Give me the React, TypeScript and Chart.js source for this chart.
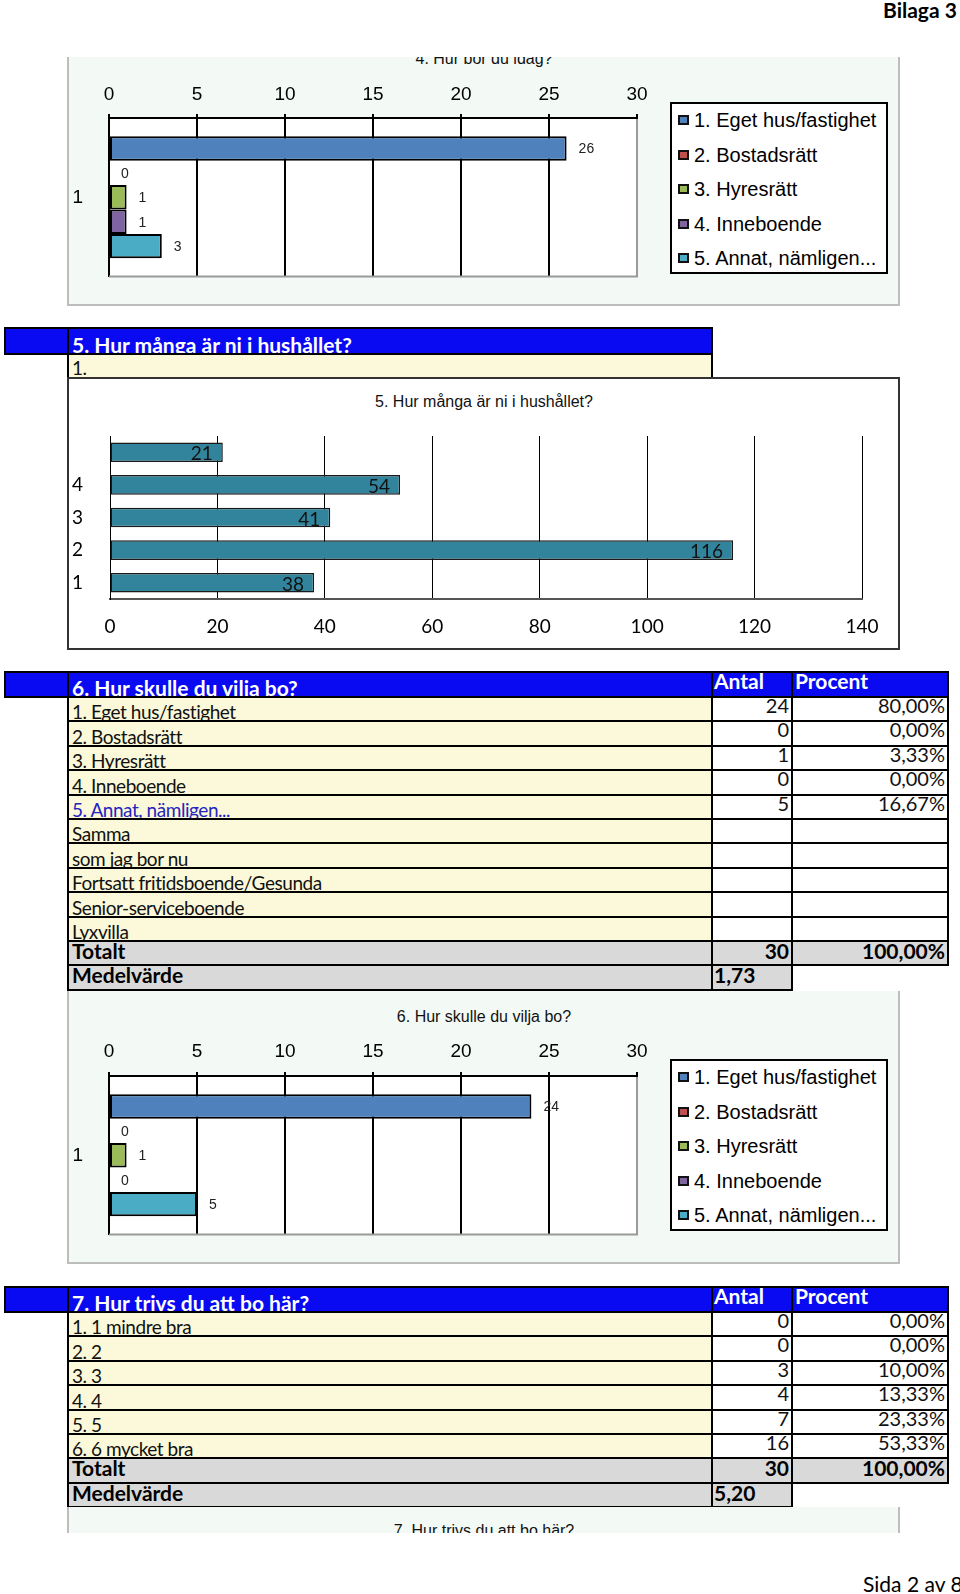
import React, { useEffect, useRef } from "react";
import { Chart, registerables } from "chart.js";

Chart.register(...registerables);

// ---------- data ----------
const housingCategories = [
  "1. Eget hus/fastighet",
  "2. Bostadsrätt",
  "3. Hyresrätt",
  "4. Inneboende",
  "5. Annat, nämligen...",
];
const seriesColors = ["#4f81bd", "#c0504d", "#9bbb59", "#8064a2", "#4bacc6"];
const groupLabels = ["1"];
const currentHousing = [26, 0, 1, 1, 3];
const desiredHousing = [24, 0, 1, 0, 5];

const householdLabels = ["", "4", "3", "2", "1"];
const householdCounts = [21, 54, 41, 116, 38];

const wishRowLabels = [
  "1. Eget hus/fastighet",
  "2. Bostadsrätt",
  "3. Hyresrätt",
  "4. Inneboende",
  "5. Annat, nämligen...",
  "Samma",
  "som jag bor nu",
  "Fortsatt fritidsboende/Gesunda",
  "Senior-serviceboende",
  "Lyxvilla",
];
const wishCounts = ["24", "0", "1", "0", "5", "", "", "", "", ""];
const wishPercents = ["80,00%", "0,00%", "3,33%", "0,00%", "16,67%", "", "", "", "", ""];
const wishTotal = ["30", "100,00%"];
const wishMean = "1,73";

const thriveRowLabels = ["1. 1 mindre bra", "2. 2", "3. 3", "4. 4", "5. 5", "6. 6 mycket bra"];
const thriveCounts = ["0", "0", "3", "4", "7", "16"];
const thrivePercents = ["0,00%", "0,00%", "10,00%", "13,33%", "23,33%", "53,33%"];
const thriveTotal = ["30", "100,00%"];
const thriveMean = "5,20";

// ---------- styles ----------
const GILL = 'Lato, "Open Sans", sans-serif';
const ARIAL = '"Liberation Sans", Arial, sans-serif';
const BLUE = "#0a0af2";
const YELLOW = "#fbf9d9";
const GRAY = "#d9d9d9";
const MINT = "#f3faf6";

const COLS = [5, 68, 712, 792, 948];

const plotBgPlugin = {
  id: "plotBg",
  beforeDraw(chart: any) {
    const { ctx, chartArea } = chart;
    ctx.save();
    ctx.fillStyle = "#ffffff";
    ctx.fillRect(chartArea.left, chartArea.top, chartArea.right - chartArea.left, chartArea.bottom - chartArea.top);
    ctx.restore();
  },
};

const bottomFramePlugin = {
  id: "bottomFrame",
  afterDraw(chart: any) {
    const { ctx, chartArea } = chart;
    ctx.save();
    ctx.strokeStyle = "#9a9a9a";
    ctx.lineWidth = 2;
    ctx.beginPath();
    ctx.moveTo(chartArea.left, chartArea.bottom);
    ctx.lineTo(chartArea.right + 1, chartArea.bottom);
    ctx.stroke();
    ctx.restore();
  },
};

function valueLabels(opts: { font: string; color: string; align: any; dx: number; dy: number }) {
  return {
    id: "valueLabels",
    afterDatasetsDraw(chart: any) {
      const ctx = chart.ctx;
      ctx.save();
      ctx.font = opts.font;
      ctx.fillStyle = opts.color;
      ctx.textBaseline = "middle";
      ctx.textAlign = opts.align;
      chart.data.datasets.forEach((ds: any, di: number) => {
        const meta = chart.getDatasetMeta(di);
        meta.data.forEach((el: any, i: number) => {
          ctx.fillText(String(ds.data[i]), el.x + opts.dx, el.y + opts.dy);
        });
      });
      ctx.restore();
    },
  };
}

// ---------- housing chart (charts 4 and 6) ----------
const BOX_LEFT = 67;
const BOX_W = 833;

function HousingChart(props: {
  values: number[];
  title: string;
  boxTop: number;
  boxHeight: number;
  plotTop: number;
  plotBottom: number;
  tickPad: number;
  titleCenter: number;
  legendTop: number;
}) {
  const ref = useRef<HTMLCanvasElement>(null);
  const { values, boxHeight, plotTop, plotBottom, tickPad } = props;
  useEffect(() => {
    const chart = new Chart(ref.current as HTMLCanvasElement, {
      type: "bar",
      data: {
        labels: groupLabels,
        datasets: housingCategories.map((name, i) => ({
          label: name,
          data: [values[i]],
          backgroundColor: seriesColors[i],
          borderColor: "#000",
          borderWidth: (c: any) => (c.raw === 0 ? 0 : 2),
          borderSkipped: false,
          barPercentage: 1,
          categoryPercentage: 0.77,
        })),
      } as any,
      options: {
        indexAxis: "y",
        responsive: false,
        animation: false,
        devicePixelRatio: 1,
        layout: { padding: { left: 0, right: BOX_W - 570, top: 0, bottom: boxHeight - plotBottom } },
        plugins: { legend: { display: false }, title: { display: false }, tooltip: { enabled: false } },
        scales: {
          x: {
            position: "top",
            min: 0,
            max: 30,
            ticks: { stepSize: 5, font: { family: ARIAL, size: 19 }, color: "#000", padding: tickPad, maxRotation: 0 },
            grid: {
              color: (c: any) => (c.tick && c.tick.value === 30 ? "#9a9a9a" : "#000"),
              lineWidth: 2,
              drawTicks: true,
              tickLength: 4,
              tickColor: "#000",
            },
            border: { display: true, color: "#000", width: 2 },
            afterFit: (s: any) => {
              s.height = plotTop;
            },
          },
          y: {
            ticks: { font: { family: ARIAL, size: 19 }, color: "#000", padding: 18 },
            grid: { display: false },
            border: { display: true, color: "#000", width: 2 },
            afterFit: (s: any) => {
              s.width = 42;
            },
          },
        },
      } as any,
      plugins: [
        plotBgPlugin,
        bottomFramePlugin,
        valueLabels({ font: `14px ${ARIAL}`, color: "#222", align: "left", dx: 12, dy: 1 }),
      ],
    });
    return () => chart.destroy();
  }, []);

  return (
    <div
      style={{
        position: "absolute",
        left: BOX_LEFT,
        top: props.boxTop,
        width: BOX_W,
        height: boxHeight,
        background: MINT,
        overflow: "hidden",
      }}
    >
      <div
        style={{
          position: "absolute",
          left: 0,
          width: 834,
          top: props.titleCenter - 9,
          lineHeight: "18px",
          fontSize: 16,
          fontFamily: ARIAL,
          textAlign: "center",
          color: "#111",
        }}
      >
        {props.title}
      </div>
      <canvas
        ref={ref}
        width={BOX_W}
        height={boxHeight}
        style={{ position: "absolute", left: 0, top: 0, width: BOX_W, height: boxHeight }}
      />
      <div
        style={{
          position: "absolute",
          left: 670 - BOX_LEFT,
          top: props.legendTop,
          width: 218,
          height: 172,
          boxSizing: "border-box",
          border: "2px solid #000",
          background: "#fff",
        }}
      >
        {housingCategories.map((name, i) => (
          <div
            key={name}
            style={{ position: "absolute", left: 6, top: 16 + i * 34.5 - 12, height: 24, display: "flex", alignItems: "center" }}
          >
            <span
              style={{
                display: "inline-block",
                width: 11,
                height: 10,
                boxSizing: "border-box",
                border: "2px solid #111",
                background: seriesColors[i],
                marginRight: 5,
              }}
            />
            <span style={{ fontFamily: ARIAL, fontSize: 20, color: "#000", whiteSpace: "nowrap", lineHeight: "24px" }}>{name}</span>
          </div>
        ))}
      </div>
      <div
        style={{
          position: "absolute",
          inset: 0,
          borderLeft: "2px solid #bdbdbd",
          borderRight: "2px solid #bdbdbd",
          borderBottom: "2px solid #bdbdbd",
          pointerEvents: "none",
        }}
      />
    </div>
  );
}

// ---------- household chart (5) ----------
function HouseholdChart() {
  const ref = useRef<HTMLCanvasElement>(null);
  const H = 273;
  useEffect(() => {
    const chart = new Chart(ref.current as HTMLCanvasElement, {
      type: "bar",
      data: {
        labels: householdLabels,
        datasets: [
          {
            label: "5. Hur många är ni i hushållet?",
            data: householdCounts,
            backgroundColor: "#31849b",
            borderColor: "#1a1a1a",
            borderWidth: 1.5,
            borderSkipped: false,
            barPercentage: 0.6,
            categoryPercentage: 1,
          },
        ],
      } as any,
      options: {
        indexAxis: "y",
        responsive: false,
        animation: false,
        devicePixelRatio: 1,
        layout: { padding: { left: 0, right: BOX_W - 795, top: 59, bottom: 0 } },
        plugins: { legend: { display: false }, title: { display: false }, tooltip: { enabled: false } },
        scales: {
          x: {
            position: "bottom",
            min: 0,
            max: 140,
            ticks: { stepSize: 20, font: { family: GILL, size: 19 }, color: "#000", padding: 16, maxRotation: 0 },
            grid: { color: "#000", lineWidth: 1, drawTicks: false },
            border: { display: true, color: "#555", width: 2 },
            afterFit: (s: any) => {
              s.height = 51;
            },
          },
          y: {
            ticks: { font: { family: GILL, size: 19 }, color: "#000", padding: 19 },
            grid: { display: false },
            border: { display: true, color: "#000", width: 1 },
            afterFit: (s: any) => {
              s.width = 43;
            },
          },
        },
      } as any,
      plugins: [valueLabels({ font: `19px ${GILL}`, color: "#111", align: "right", dx: -10, dy: 2 })],
    });
    return () => chart.destroy();
  }, []);
  return (
    <div
      style={{
        position: "absolute",
        left: BOX_LEFT,
        top: 377,
        width: BOX_W,
        height: H,
        background: "#fff",
        overflow: "hidden",
      }}
    >
      <div
        style={{
          position: "absolute",
          left: 0,
          width: 834,
          top: 402 - 377 - 9,
          lineHeight: "18px",
          fontSize: 16,
          fontFamily: ARIAL,
          textAlign: "center",
          color: "#111",
        }}
      >
        5. Hur många är ni i hushållet?
      </div>
      <canvas ref={ref} width={BOX_W} height={H} style={{ position: "absolute", left: 0, top: 0, width: BOX_W, height: H }} />
      <div style={{ position: "absolute", inset: 0, border: "2px solid #333", pointerEvents: "none" }} />
    </div>
  );
}

// ---------- tables ----------
function Cell(p: { x0: number; x1: number; y0: number; y1: number; bg: string; children?: any; noBorder?: boolean }) {
  return (
    <div
      style={{
        position: "absolute",
        left: p.x0 - 1,
        top: p.y0 - 1,
        width: p.x1 - p.x0 + 2,
        height: p.y1 - p.y0 + 2,
        boxSizing: "border-box",
        border: p.noBorder ? "none" : "2px solid #000",
        background: p.bg,
        overflow: "hidden",
      }}
    >
      {p.children}
    </div>
  );
}

const txt = (extra: any) => ({
  position: "absolute" as const,
  lineHeight: "19px",
  fontSize: 19,
  whiteSpace: "nowrap" as const,
  color: "#111",
  ...extra,
});
const label = (extra: any) => txt({ letterSpacing: "-0.45px", ...extra });
const num = (extra: any) => txt({ fontSize: 20, lineHeight: "20px", ...extra });
const bold = (extra: any) => txt({ fontSize: 21, lineHeight: "21px", fontWeight: 700, color: "#000", ...extra });

function HeaderRow(p: { y0: number; y1: number; title: string; withCols: boolean }) {
  return (
    <>
      <Cell x0={COLS[0]} x1={COLS[1]} y0={p.y0} y1={p.y1} bg={BLUE} />
      <Cell x0={COLS[1]} x1={COLS[2]} y0={p.y0} y1={p.y1} bg={BLUE}>
        <span style={bold({ left: 3, bottom: -2, color: "#fff" })}>{p.title}</span>
      </Cell>
      {p.withCols && (
        <>
          <Cell x0={COLS[2]} x1={COLS[3]} y0={p.y0} y1={p.y1} bg={BLUE}>
            <span style={bold({ left: 1, top: -3, color: "#fff" })}>Antal</span>
          </Cell>
          <Cell x0={COLS[3]} x1={COLS[4]} y0={p.y0} y1={p.y1} bg={BLUE}>
            <span style={bold({ left: 2, top: -3, color: "#fff" })}>Procent</span>
          </Cell>
        </>
      )}
    </>
  );
}

function SurveyTable(p: {
  top: number;
  title: string;
  labels: string[];
  counts: string[];
  percents: string[];
  total: string[];
  mean: string;
  blueRow?: number;
}) {
  const headerBottom = p.top + 25;
  const rowH = 24.4;
  const ys = (i: number) => Math.round(headerBottom + i * rowH);
  const n = p.labels.length;
  return (
    <>
      <HeaderRow y0={p.top} y1={headerBottom} title={p.title} withCols={true} />
      {p.labels.map((lab, i) => (
        <React.Fragment key={lab + i}>
          <Cell x0={COLS[1]} x1={COLS[2]} y0={ys(i)} y1={ys(i + 1)} bg={YELLOW}>
            <span style={label({ left: 3, bottom: -1, color: i === p.blueRow ? "#2424c0" : "#111" })}>{lab}</span>
          </Cell>
          <Cell x0={COLS[2]} x1={COLS[3]} y0={ys(i)} y1={ys(i + 1)} bg="#fff">
            <span style={num({ right: 2, top: -3 })}>{p.counts[i]}</span>
          </Cell>
          <Cell x0={COLS[3]} x1={COLS[4]} y0={ys(i)} y1={ys(i + 1)} bg="#fff">
            <span style={num({ right: 2, top: -3 })}>{p.percents[i]}</span>
          </Cell>
        </React.Fragment>
      ))}
      <Cell x0={COLS[1]} x1={COLS[2]} y0={ys(n)} y1={ys(n + 1)} bg={GRAY}>
        <span style={bold({ left: 3, top: -2 })}>Totalt</span>
      </Cell>
      <Cell x0={COLS[2]} x1={COLS[3]} y0={ys(n)} y1={ys(n + 1)} bg={GRAY}>
        <span style={bold({ right: 2, top: -2 })}>{p.total[0]}</span>
      </Cell>
      <Cell x0={COLS[3]} x1={COLS[4]} y0={ys(n)} y1={ys(n + 1)} bg={GRAY}>
        <span style={bold({ right: 2, top: -2 })}>{p.total[1]}</span>
      </Cell>
      <Cell x0={COLS[1]} x1={COLS[2]} y0={ys(n + 1)} y1={ys(n + 2)} bg={GRAY}>
        <span style={bold({ left: 3, top: -2 })}>Medelvärde</span>
      </Cell>
      <Cell x0={COLS[2]} x1={COLS[3]} y0={ys(n + 1)} y1={ys(n + 2)} bg={GRAY}>
        <span style={bold({ left: 1, top: -2 })}>{p.mean}</span>
      </Cell>
    </>
  );
}

export default function App() {
  return (
    <div
      style={{
        position: "absolute",
        left: 0,
        top: 0,
        width: 960,
        height: 1594,
        background: "#fff",
        overflow: "hidden",
        fontFamily: GILL,
      }}
    >
      <div style={{ position: "absolute", left: 883, top: -1, fontSize: 21, lineHeight: "22px", fontWeight: 700, color: "#000", whiteSpace: "nowrap" }}>
        Bilaga 3
      </div>

      <HousingChart
        values={currentHousing}
        title="4. Hur bor du idag?"
        boxTop={57}
        boxHeight={249}
        plotTop={61}
        plotBottom={227}
        tickPad={8}
        titleCenter={2}
        legendTop={45}
      />

      {/* Section 5 */}
      <HeaderRow y0={328} y1={354} title="5. Hur många är ni i hushållet?" withCols={false} />
      <Cell x0={COLS[1]} x1={COLS[2]} y0={354} y1={381} bg={YELLOW}>
        <span style={label({ left: 3, top: 3 })}>1.</span>
      </Cell>
      <HouseholdChart />

      {/* Section 6 */}
      <SurveyTable
        top={672}
        title="6. Hur skulle du vilja bo?"
        labels={wishRowLabels}
        counts={wishCounts}
        percents={wishPercents}
        total={wishTotal}
        mean={wishMean}
        blueRow={4}
      />
      <HousingChart
        values={desiredHousing}
        title="6. Hur skulle du vilja bo?"
        boxTop={991}
        boxHeight={273}
        plotTop={85}
        plotBottom={251}
        tickPad={9}
        titleCenter={26}
        legendTop={68}
      />

      {/* Section 7 */}
      <SurveyTable
        top={1287}
        title="7. Hur trivs du att bo här?"
        labels={thriveRowLabels}
        counts={thriveCounts}
        percents={thrivePercents}
        total={thriveTotal}
        mean={thriveMean}
      />
      <div
        style={{
          position: "absolute",
          left: BOX_LEFT,
          top: 1507,
          width: BOX_W,
          height: 26,
          background: MINT,
          overflow: "hidden",
          boxSizing: "border-box",
          borderLeft: "2px solid #bdbdbd",
          borderRight: "2px solid #bdbdbd",
        }}
      >
        <div
          style={{
            position: "absolute",
            left: 0,
            width: 830,
            top: 15,
            lineHeight: "18px",
            fontSize: 16,
            fontFamily: ARIAL,
            textAlign: "center",
            color: "#111",
          }}
        >
          7. Hur trivs du att bo här?
        </div>
      </div>

      <div style={{ position: "absolute", left: 863, top: 1573, fontSize: 21, lineHeight: "22px", color: "#000", whiteSpace: "nowrap" }}>
        Sida 2 av 8
      </div>
    </div>
  );
}
